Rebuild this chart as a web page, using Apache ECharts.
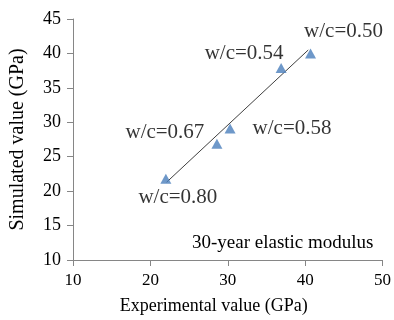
<!DOCTYPE html>
<html>
<head>
<meta charset="utf-8">
<script src="https://cdn.jsdelivr.net/npm/echarts@6/dist/echarts.min.js"></script>
<style>html,body{margin:0;padding:0;background:#fff;}#c{width:394px;height:320px;}</style>
</head>
<body>
<div id="c"></div>
<script>
// Data
var wcLabels = ['w/c=0.50', 'w/c=0.54', 'w/c=0.58', 'w/c=0.67', 'w/c=0.80'];
var experimental = [40.7, 36.9, 30.3, 28.6, 22.0];
var simulated = [40.0, 37.9, 29.1, 26.9, 21.8];
var trendX = [22.1, 40.4];
var trendY = [21.3, 40.5];
var xTicks = [10, 20, 30, 40, 50];
var yTicks = [10, 15, 20, 25, 30, 35, 40, 45];
var note = '30-year elastic modulus';
var xTitle = 'Experimental value (GPa)';
var yTitle = 'Simulated value (GPa)';

// Styling (label offsets in px)
var labelOffsets = [[33, -22], [-37, -14], [62, 0], [-52, -11], [12, 19]];
var FONT = "'Liberation Serif', 'Times New Roman', serif";

var chart = echarts.init(document.getElementById('c'), null, {renderer: 'canvas'});
var pts = experimental.map(function (x, i) {
  return {
    value: [x, simulated[i]],
    name: wcLabels[i],
    label: {offset: labelOffsets[i]}
  };
});
var option = {
  animation: false,
  backgroundColor: '#fff',
  grid: {left: 67, right: 11, top: 19, bottom: 59, containLabel: false},
  xAxis: {
    type: 'value', min: xTicks[0], max: xTicks[xTicks.length - 1], interval: 10,
    axisLine: {show: true, lineStyle: {color: '#868686', width: 1}},
    axisTick: {show: true, length: 6, lineStyle: {color: '#868686'}},
    splitLine: {show: false},
    axisLabel: {color: '#000', fontFamily: FONT, fontSize: 17, margin: 12},
    name: xTitle, nameLocation: 'middle', nameGap: 37,
    nameTextStyle: {color: '#000', fontFamily: FONT, fontSize: 18, padding: [0, 28, 0, 0]}
  },
  yAxis: {
    type: 'value', min: yTicks[0], max: yTicks[yTicks.length - 1], interval: 5,
    axisLine: {show: true, lineStyle: {color: '#868686', width: 1}},
    axisTick: {show: true, length: 6, lineStyle: {color: '#868686'}},
    splitLine: {show: false},
    axisLabel: {color: '#000', fontFamily: FONT, fontSize: 18, margin: 12},
    name: yTitle, nameLocation: 'middle', nameGap: 45, nameRotate: 90,
    nameTextStyle: {color: '#000', fontFamily: FONT, fontSize: 20}
  },
  graphic: [{
    type: 'text', left: 192, top: 234,
    style: {text: note, font: '19px ' + FONT, fill: '#000'}
  }],
  series: [{
    type: 'line', data: trendX.map(function (x, i) { return [x, trendY[i]]; }),
    showSymbol: false, symbol: 'none',
    lineStyle: {color: '#404040', width: 1}, z: 2, silent: true
  }, {
    type: 'scatter', data: pts, symbol: 'triangle', symbolSize: [11, 10],
    itemStyle: {color: '#4A7EBB'}, z: 3,
    label: {
      show: true, position: 'inside', formatter: '{b}',
      color: '#000', fontFamily: FONT, fontSize: 21
    }
  }]
};
chart.setOption(option);
</script>
</body>
</html>
